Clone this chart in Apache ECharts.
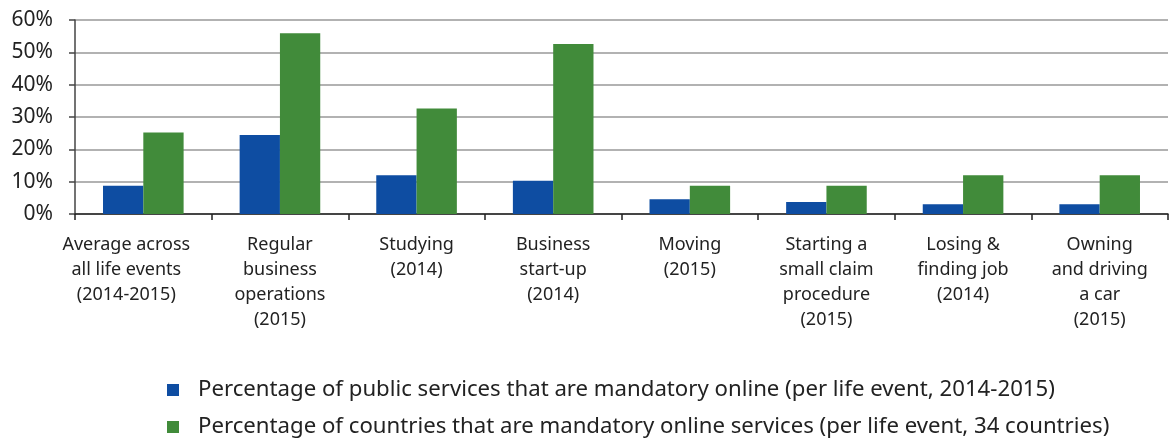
<!DOCTYPE html>
<html>
<head>
<meta charset="utf-8">
<script src="https://cdn.jsdelivr.net/npm/echarts@6/dist/echarts.min.js"></script>
<style>
html,body{margin:0;padding:0;background:#fff;}
#chart{width:1169px;height:438px;}
</style>
</head>
<body>
<div id="chart"></div>
<script>
const categories = [
  "Average across\nall life events\n(2014-2015)",
  "Regular\nbusiness\noperations\n(2015)",
  "Studying\n(2014)",
  "Business\nstart-up\n(2014)",
  "Moving\n(2015)",
  "Starting a\nsmall claim\nprocedure\n(2015)",
  "Losing &\nfinding job\n(2014)",
  "Owning\nand driving\na car\n(2015)"
];
const seriesNames = [
  "Percentage of public services that are mandatory online (per life event, 2014-2015)",
  "Percentage of countries that are mandatory online services (per life event, 34 countries)"
];
const publicServices = [8.7, 24.4, 12.0, 10.3, 4.6, 3.7, 3.0, 3.0];
const countries = [25.2, 55.9, 32.6, 52.6, 8.7, 8.7, 12.0, 12.0];
const yTicks = { min: 0, max: 60, interval: 10 };

const FONT = "'Noto Sans', 'Open Sans', sans-serif";
const catData = categories.map((c, i) => i === 0
  ? { value: c, textStyle: { padding: [0, 34, 0, 0] } }
  : c);
const legendBase = {
  orient: 'horizontal',
  left: 167,
  padding: 0,
  itemWidth: 12,
  itemHeight: 12,
  icon: 'rect',
  textStyle: { fontSize: 22.2, color: '#222', fontFamily: FONT, padding: [0, 0, 0, 14] }
};
const chart = echarts.init(document.getElementById('chart'));
chart.setOption({
  animation: false,
  textStyle: { fontFamily: FONT },
  grid: { left: 75, right: 1, top: 20, bottom: 224, containLabel: false },
  legend: [
    Object.assign({}, legendBase, { top: 379, data: [seriesNames[0]] }),
    Object.assign({}, legendBase, { top: 416, data: [seriesNames[1]] })
  ],
  xAxis: {
    type: 'category',
    data: catData,
    axisLine: { lineStyle: { color: '#222', width: 1.5 } },
    axisTick: { show: true, length: 6, lineStyle: { color: '#222', width: 1.5 } },
    axisLabel: { fontSize: 18, color: '#222', lineHeight: 25, margin: 18, interval: 0, fontFamily: FONT }
  },
  yAxis: {
    type: 'value',
    min: yTicks.min,
    max: yTicks.max,
    interval: yTicks.interval,
    axisLine: { show: true, lineStyle: { color: '#444', width: 1.5 } },
    axisTick: { show: true, length: 6, lineStyle: { color: '#444', width: 1.5 } },
    axisLabel: { fontSize: 21, color: '#222', margin: 22, formatter: '{value}%', fontFamily: FONT },
    splitLine: { show: true, lineStyle: { color: '#999', width: 1.5 } }
  },
  series: [
    {
      name: seriesNames[0],
      type: 'bar',
      data: publicServices,
      itemStyle: { color: '#0e4da2' },
      barGap: '0%',
      barCategoryGap: '41%'
    },
    {
      name: seriesNames[1],
      type: 'bar',
      data: countries,
      itemStyle: { color: '#418b3a' },
      barGap: '0%',
      barCategoryGap: '41%'
    }
  ]
});
</script>
</body>
</html>
